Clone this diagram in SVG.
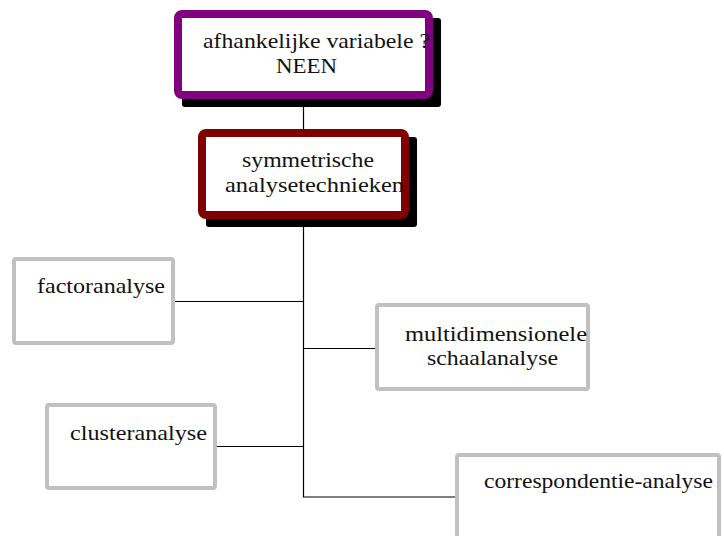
<svg xmlns="http://www.w3.org/2000/svg" width="724" height="536" viewBox="0 0 724 536">
<style>
.t{font-family:"Liberation Serif","Times New Roman",serif;font-size:22px;fill:#111}
.s{font-size:21px}
.sh{fill:#000}
.gray{fill:#fff;stroke:#c0c0c0;stroke-width:4}
.c{stroke:#000;stroke-width:1.2;fill:none}
</style>
<rect width="724" height="536" fill="#fff"/>
<g id="connectors">
<path class="c" d="M303.5 99 V497 H455"/>
<path class="c" d="M175 301.5 H303.5"/>
<path class="c" d="M303.5 348.5 H375"/>
<path class="c" d="M217 446.5 H303.5"/>
</g>
<g id="node-afhankelijke">
<rect class="sh" x="182" y="18" width="259" height="89" rx="3"/>
<rect x="178" y="14" width="251" height="81" rx="4" fill="#fff" stroke="#800080" stroke-width="8"/>
<text class="t" x="203" y="48" textLength="227" lengthAdjust="spacingAndGlyphs">afhankelijke variabele ?</text>
<text class="t" x="276" y="73" textLength="61" lengthAdjust="spacingAndGlyphs">NEEN</text>
</g>
<g id="node-symmetrische">
<rect class="sh" x="206" y="137" width="211" height="90" rx="3"/>
<rect x="202" y="133" width="203" height="82" rx="4" fill="#fff" stroke="#800000" stroke-width="8"/>
<text class="t" x="242" y="167" textLength="132" lengthAdjust="spacingAndGlyphs">symmetrische</text>
<text class="t" x="225" y="192" textLength="179" lengthAdjust="spacingAndGlyphs">analysetechnieken</text>
</g>
<g id="node-factoranalyse">
<rect class="gray" x="14" y="259" width="159" height="84" rx="2"/>
<text class="t" x="37" y="293" textLength="128" lengthAdjust="spacingAndGlyphs">factoranalyse</text>
</g>
<g id="node-multidimensionele">
<rect class="gray" x="377" y="305" width="211" height="84" rx="2"/>
<text class="t s" x="405" y="341" textLength="182" lengthAdjust="spacingAndGlyphs">multidimensionele</text>
<text class="t s" x="427" y="365" textLength="131" lengthAdjust="spacingAndGlyphs">schaalanalyse</text>
</g>
<g id="node-clusteranalyse">
<rect class="gray" x="47" y="405" width="168" height="83" rx="2"/>
<text class="t" x="70" y="440" textLength="137" lengthAdjust="spacingAndGlyphs">clusteranalyse</text>
</g>
<g id="node-correspondentie">
<rect class="gray" x="457" y="455" width="262" height="100" rx="2"/>
<text class="t" x="484" y="488" textLength="229" lengthAdjust="spacingAndGlyphs">correspondentie-analyse</text>
</g>
</svg>
